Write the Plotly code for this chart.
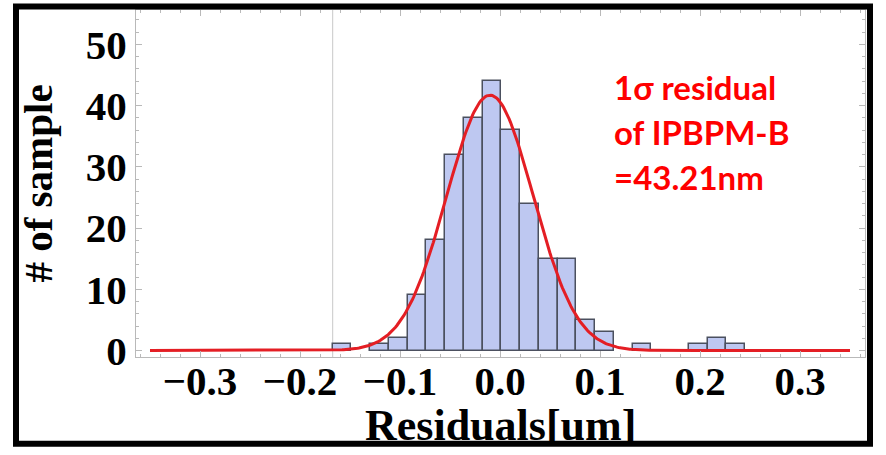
import numpy as np
import plotly.graph_objects as go

# ---- data ----
bin_start = -0.1673          # left edge of the first bin (um)
bin_width = 0.01875          # bin width (um)
counts = [1, 0, 1, 2, 9, 18, 32, 38, 44, 36, 24, 15, 15, 5, 3, 0, 1, 0, 0, 1, 2, 1]

fit_amplitude = 41.7         # Gaussian fit peak (# of sample)
fit_mean = -0.010            # um
fit_sigma = 0.0432           # um (43.21 nm)
fit_x_range = [-0.35, 0.35]

x_ticks = [-0.3, -0.2, -0.1, 0.0, 0.1, 0.2, 0.3]
y_ticks = [0, 10, 20, 30, 40, 50]

note_lines = ["1σ residual", "of IPBPM-B", "=43.21nm"]
note_y = [43.0, 35.6, 28.4]

# ---- build ----
centers = [bin_start + (i + 0.5) * bin_width for i in range(len(counts))]
bx = [c for c, n in zip(centers, counts) if n > 0]
by = [n for n in counts if n > 0]

xf = np.linspace(fit_x_range[0], fit_x_range[1], 500)
yf = fit_amplitude * np.exp(-(xf - fit_mean) ** 2 / (2 * fit_sigma ** 2))

fig = go.Figure()
fig.add_trace(go.Bar(
    x=bx, y=by, width=bin_width,
    marker=dict(color="rgb(190,200,241)", line=dict(color="rgb(75,80,95)", width=1.5)),
    showlegend=False, hoverinfo="skip"))
fig.add_trace(go.Scatter(
    x=xf, y=yf, mode="lines",
    line=dict(color="rgb(228,30,36)", width=3), showlegend=False))

# light vertical axis line at the histogram origin
fig.add_shape(type="line", xref="x", yref="paper", x0=bin_start, x1=bin_start, y0=0, y1=1,
              line=dict(color="rgb(200,200,200)", width=1), layer="below")

# outer black border of the image
fig.add_shape(type="rect", xref="paper", yref="paper",
              x0=(16 - 136) / 729, x1=(870 - 136) / 729,
              y0=(357.5 - 444.5) / 348, y1=(357.5 - 6) / 348,
              line=dict(color="black", width=6), fillcolor="rgba(0,0,0,0)")

for txt, yy in zip(note_lines, note_y):
    fig.add_annotation(x=0.112, y=yy, xref="x", yref="y", text=txt, showarrow=False,
                       xanchor="left", yanchor="middle",
                       font=dict(family="Lato", size=33, color="rgb(255,0,0)", weight="bold"))

# x-axis title placed as text just above the bottom border
fig.add_annotation(x=0.5, y=(357.5 - 426) / 348, xref="paper", yref="paper",
                   text="Residuals[um]", showarrow=False, xanchor="center", yanchor="middle",
                   font=dict(family="Liberation Serif", size=44, color="black", weight="bold"))

tickfont = dict(family="Liberation Serif", size=41, color="black", weight="bold")
axcommon = dict(showgrid=False, zeroline=False, showline=True, linecolor="rgb(185,185,185)",
                linewidth=1, mirror="ticks", ticks="inside", ticklen=6, tickcolor="rgb(185,185,185)",
                tickwidth=1, tickfont=tickfont)

fig.update_xaxes(range=[-0.364, 0.365], tickvals=x_ticks, tickformat=".1f",
                 ticklabelstandoff=-12,
                 minor=dict(dtick=0.02, tick0=0, ticks="inside", ticklen=3, tickcolor="rgb(185,185,185)"),
                 **axcommon)
fig.update_yaxes(range=[-1.06, 55.6], tickvals=y_ticks,
                 minor=dict(dtick=2, tick0=0, ticks="inside", ticklen=3, tickcolor="rgb(185,185,185)"),
                 title=dict(text="# of sample", standoff=20,
                            font=dict(family="Liberation Serif", size=41, color="black", weight="bold")),
                 **axcommon)

fig.update_layout(width=886, height=455, margin=dict(l=136, r=21, t=9.5, b=97.5),
                  plot_bgcolor="white", paper_bgcolor="white", bargap=0)

fig.write_html("out.html", config={"displayModeBar": False},
               post_script="document.body.style.margin='0';document.body.style.overflow='hidden';")
